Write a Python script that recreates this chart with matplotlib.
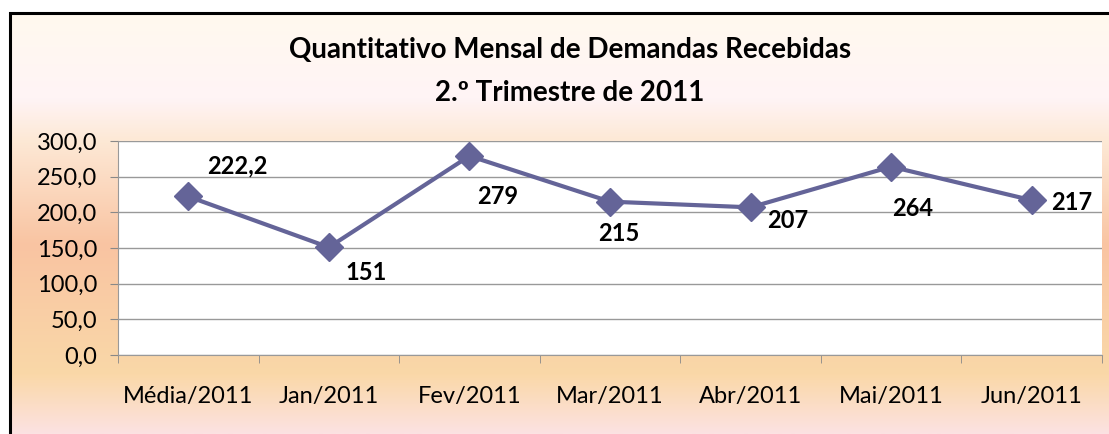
import numpy as np
import matplotlib.pyplot as plt
from matplotlib.colors import LinearSegmentedColormap
from matplotlib.patches import Rectangle

# ======================
# DATA
# ======================
categories = ["Média/2011", "Jan/2011", "Fev/2011", "Mar/2011", "Abr/2011", "Mai/2011", "Jun/2011"]
values = [222.2, 151, 279, 215, 207, 264, 217]
value_labels = ["222,2", "151", "279", "215", "207", "264", "217"]
# label offsets in pixels (dx, dy) relative to each point
label_offsets = [(49, 31), (37, -25), (28, -41), (9, -32), (37, -13), (21, -42), (40, -2)]

plt.rcParams['font.family'] = ['Lato', 'DejaVu Sans']

W, H = 1109, 434
fig = plt.figure(figsize=(W / 100, H / 100), dpi=100)
fig.patch.set_facecolor("white")

# ======================
# BACKGROUND GRADIENT (inside the chart border)
# ======================
bx0, by_top = 10, 13
bg = fig.add_axes([bx0 / W, 0, 1 - bx0 / W, 1 - by_top / H], zorder=-2)
stops = [
    (0.00, "#FFF9EE"),
    (0.20, "#FFF4F6"),
    (0.30, "#FDE9D6"),
    (0.55, "#F9C4A2"),
    (0.86, "#FAD8A8"),
    (1.00, "#FCE2E2"),
]
cmap = LinearSegmentedColormap.from_list("sunset", stops)
grad = np.linspace(0, 1, 256).reshape(-1, 1)
bg.imshow(grad, aspect="auto", cmap=cmap, extent=[0, 1, 1, 0])
bg.set_xlim(0, 1)
bg.set_ylim(1, 0)
bg.axis("off")

# black border (top and left visible)
fig.add_artist(Rectangle((bx0 / W, -0.05), 1.05, 1 - by_top / H + 0.05,
                         transform=fig.transFigure, fill=False,
                         edgecolor="black", linewidth=2.2, zorder=-1))

# ======================
# PLOT AREA
# ======================
left, right, top, bottom = 118, 1102, 141, 355
ax = fig.add_axes([left / W, 1 - bottom / H, (right - left) / W, (bottom - top) / H])
ax.set_facecolor("white")

x = np.arange(len(categories))
ax.plot(x, values, color="#646498", linewidth=3, marker="D", markersize=14,
        markeredgecolor="#646498", zorder=3, clip_on=False)

for xi, v, lab, (dx, dy) in zip(x, values, value_labels, label_offsets):
    ax.annotate(lab, (xi, v), xytext=(dx, dy), textcoords="offset pixels",
                ha="center", va="center", fontsize=17, fontweight="bold", color="black")

ax.set_xlim(-0.5, len(categories) - 0.5)
ax.set_ylim(0, 300)
ax.set_yticks(np.arange(0, 301, 50))
ax.set_yticklabels([f"{t:.1f}".replace(".", ",") for t in np.arange(0, 301, 50)], fontsize=17)
ax.set_xticks(x)
ax.set_xticklabels(categories, fontsize=17)
ax.set_xticks(np.arange(-0.5, len(categories)), minor=True)
ax.tick_params(axis="x", which="major", length=0, pad=22)
ax.tick_params(axis="x", which="minor", length=6, color="#888888", direction="out")
ax.tick_params(axis="y", length=6, color="#888888", pad=9)
ax.grid(axis="y", color="#999999", linewidth=1)
ax.set_axisbelow(True)
ax.spines["right"].set_visible(False)
ax.spines["top"].set_visible(False)
ax.spines["left"].set_color("#999999")
ax.spines["bottom"].set_color("#999999")

# ======================
# TITLE
# ======================
fig.text(0.514, 1 - 50 / H, "Quantitativo Mensal de Demandas Recebidas",
         ha="center", va="center", fontsize=20, fontweight="bold")
fig.text(0.514, 1 - 93 / H, "2.º Trimestre de 2011",
         ha="center", va="center", fontsize=20, fontweight="bold")

fig.savefig("out.png", dpi=100)
